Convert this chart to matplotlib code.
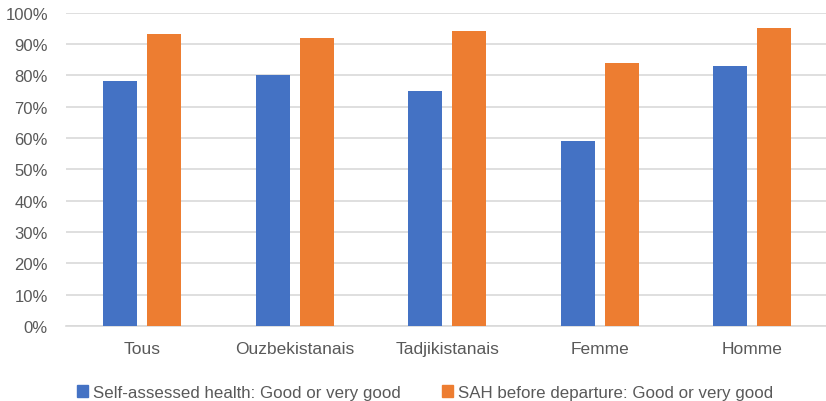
import matplotlib
matplotlib.use("Agg")
import matplotlib.pyplot as plt
from matplotlib.ticker import FuncFormatter
from matplotlib.patches import Patch
import numpy as np

categories = ["Tous", "Ouzbekistanais", "Tadjikistanais", "Femme", "Homme"]
sah_now = [78, 80, 75, 59, 83]
sah_before = [93, 92, 94, 84, 95]
series_names = ["Self-assessed health: Good or very good",
                "SAH before departure: Good or very good"]

plt.rcParams['font.family'] = ['Liberation Sans', 'DejaVu Sans']
text_color = "#595959"
grid_color = "#D9D9D9"
blue = "#4472C4"
orange = "#ED7D31"

fig = plt.figure(figsize=(8.26, 4.02), dpi=100)
ax = fig.add_axes([66/826, 1-327/402, 762.5/826, (327-13.5)/402])

x = np.arange(len(categories))
w = 0.223
off = 0.143
ax.bar(x - off, sah_now, width=w, color=blue, zorder=3)
ax.bar(x + off, sah_before, width=w, color=orange, zorder=3)

ax.set_xlim(-0.5, len(categories) - 0.5)
ax.set_ylim(0, 100)
ax.set_yticks(np.arange(0, 101, 10))
ax.yaxis.set_major_formatter(FuncFormatter(lambda v, p: f"{int(v)}%"))
ax.set_xticks(x)
ax.set_xticklabels(categories)
ax.grid(axis='y', color=grid_color, linewidth=1.2, zorder=0)
for s in ['top', 'right', 'left']:
    ax.spines[s].set_visible(False)
ax.spines['bottom'].set_color(grid_color)
ax.spines['bottom'].set_linewidth(1.2)
ax.tick_params(axis='both', length=0, colors=text_color)
ax.tick_params(axis='y', pad=13, labelsize=12)
ax.tick_params(axis='x', pad=11, labelsize=12.5)

handles = [Patch(color=blue, label=series_names[0]),
           Patch(color=orange, label=series_names[1])]
fig.legend(handles=handles, loc='center', bbox_to_anchor=(425/826, 1-393.5/402),
           ncol=2, frameon=False, fontsize=12.2, labelcolor=text_color,
           handlelength=0.65, handleheight=0.65, handletextpad=0.3,
           columnspacing=2.4, borderaxespad=0)

fig.savefig("out.png", dpi=100)
